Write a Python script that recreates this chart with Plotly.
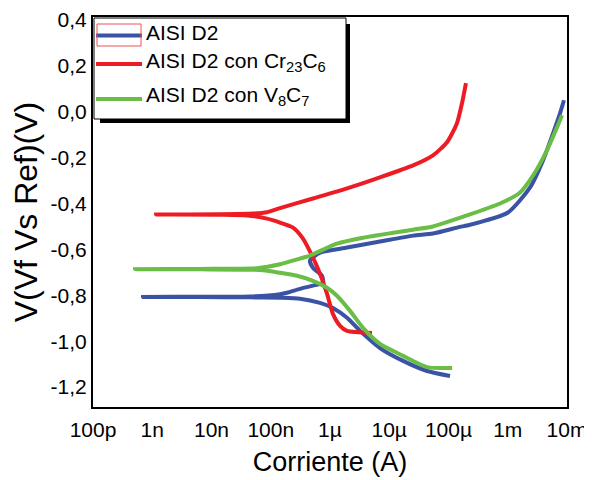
import plotly.graph_objects as go

# ---- data (current in A, potential in V) ----
blue_i = [1.06e-4, 4.34e-5, 1.71e-5, 6.98e-6, 3.21e-6, 1.94e-6, 1.12e-6, 6.78e-7, 3.12e-7, 1.43e-7,
          4.47e-8, 6.40e-9, 6.98e-10, 6.40e-9, 4.47e-8, 1.43e-7, 1.88e-7, 3.12e-7, 5.16e-7, 7.62e-7,
          7.33e-7, 5.16e-7, 4.59e-7, 6.78e-7, 1.94e-6, 6.98e-6, 2.52e-5, 5.47e-5, 1.56e-4, 2.05e-4,
          1.01e-3, 2.38e-3, 3.94e-3, 5.81e-3, 7.62e-3, 8.89e-3]
blue_v = [-1.152, -1.130, -1.086, -1.030, -0.955, -0.898, -0.855, -0.833, -0.815, -0.811,
          -0.809, -0.808, -0.807, -0.806, -0.805, -0.795, -0.789, -0.772, -0.758, -0.745,
          -0.715, -0.680, -0.649, -0.614, -0.592, -0.566, -0.540, -0.531, -0.502, -0.496,
          -0.439, -0.330, -0.212, -0.094, -0.007, 0.050]

red_i = [5.12e-6, 1.94e-6, 1.48e-6, 1.12e-6, 8.89e-7, 6.78e-7, 5.16e-7, 3.50e-7, 2.38e-7, 1.43e-7,
         8.65e-8, 3.97e-8, 1.39e-8, 1.16e-9, 1.39e-8, 5.01e-8, 8.65e-8, 1.43e-7, 5.16e-7, 1.94e-6,
         6.98e-6, 2.52e-5, 5.47e-5, 9.44e-5, 1.39e-4, 1.69e-4, 1.97e-4]
red_v = [-0.964, -0.955, -0.933, -0.881, -0.793, -0.706, -0.636, -0.553, -0.505, -0.483,
         -0.466, -0.452, -0.449, -0.448, -0.447, -0.444, -0.438, -0.420, -0.378, -0.334,
         -0.286, -0.234, -0.190, -0.133, -0.050, 0.037, 0.125]

green_i = [1.15e-4, 4.34e-5, 1.71e-5, 6.98e-6, 3.61e-6, 2.18e-6, 1.31e-6, 8.89e-7, 5.16e-7, 2.77e-7,
           1.43e-7, 6.59e-8, 6.40e-9, 5.12e-10, 6.40e-9, 5.86e-8, 1.43e-7, 3.12e-7, 4.59e-7, 1.31e-6,
           3.61e-6, 2.52e-5, 5.47e-5, 2.05e-4, 7.40e-4, 1.61e-3, 2.67e-3, 4.59e-3, 6.78e-3, 8.24e-3]
green_v = [-1.117, -1.113, -1.064, -1.012, -0.942, -0.868, -0.802, -0.767, -0.737, -0.715,
           -0.702, -0.690, -0.687, -0.686, -0.685, -0.682, -0.665, -0.640, -0.627, -0.575,
           -0.549, -0.514, -0.500, -0.452, -0.400, -0.352, -0.278, -0.168, -0.068, -0.015]

names = ["AISI D2", "AISI D2 con Cr<sub>23</sub>C<sub>6</sub>", "AISI D2 con V<sub>8</sub>C<sub>7</sub>"]
colors = ["#3A53A4", "#ED1C24", "#6ABD45"]

x_tickvals = [1e-10, 1e-9, 1e-8, 1e-7, 1e-6, 1e-5, 1e-4, 1e-3, 1e-2]
x_ticktext = ["100p", "1n", "10n", "100n", "1µ", "10µ", "100µ", "1m", "10m"]
y_tickvals = [-1.2, -1.0, -0.8, -0.6, -0.4, -0.2, 0.0, 0.2, 0.4]
y_ticktext = ["-1,2", "-1,0", "-0,8", "-0,6", "-0,4", "-0,2", "0,0", "0,2", "0,4"]

# page has an 8px body margin: build the figure 8px smaller so it lands where the reference is
OFF = 8
W, H = 592 - OFF, 480 - OFF
PL, PR, PT, PB = 93, 567, 17, 407          # plot edges in window pixels
L, T = PL - OFF, PT - OFF
R, B = W - (PR - OFF), H - (PB - OFF)
PW, PH = PR - PL, PB - PT

def px(x):
    return (x - PL) / PW

def py(y):
    return (PB - y) / PH

fig = go.Figure()
for xs, ys, nm, c in [(blue_i, blue_v, names[0], colors[0]),
                      (red_i, red_v, names[1], colors[1]),
                      (green_i, green_v, names[2], colors[2])]:
    fig.add_trace(go.Scatter(x=xs, y=ys, mode="lines", name=nm, showlegend=False,
                             line=dict(color=c, width=4, shape="spline", smoothing=0.6)))

shapes = [
    # legend shadow
    dict(type="rect", xref="paper", yref="paper", x0=px(100), x1=px(350), y0=py(123), y1=py(24),
         fillcolor="black", line=dict(width=0), layer="above"),
    # legend box
    dict(type="rect", xref="paper", yref="paper", x0=px(94), x1=px(346), y0=py(119), y1=py(18),
         fillcolor="white", line=dict(color="black", width=1), layer="above"),
]
legend_rows_y = [35.5, 64, 99]
for yy, c in zip(legend_rows_y, colors):
    shapes.append(dict(type="line", xref="paper", yref="paper", x0=px(96), x1=px(142),
                       y0=py(yy), y1=py(yy), line=dict(color=c, width=4), layer="above"))
# small red frame around first legend sample
shapes.append(dict(type="rect", xref="paper", yref="paper", x0=px(97), x1=px(141), y0=py(46), y1=py(24),
                   fillcolor="rgba(0,0,0,0)", line=dict(color="#F05050", width=1), layer="above"))

text_tops = [20.5, 47.5, 82.5]
annotations = [dict(xref="paper", yref="paper", x=px(145), y=py(tt), xanchor="left", yanchor="top",
                    text=nm, showarrow=False, font=dict(size=21, color="black"), borderpad=0)
               for tt, nm in zip(text_tops, names)]

fig.update_layout(
    width=W, height=H,
    margin=dict(l=L, r=R, t=T, b=B, autoexpand=False),
    paper_bgcolor="white", plot_bgcolor="white",
    font=dict(family="Liberation Sans, Arial, sans-serif", color="black"),
    shapes=shapes, annotations=annotations,
    showlegend=False,
    xaxis=dict(type="log", range=[-10, -2], tickvals=x_tickvals, ticktext=x_ticktext,
               showgrid=False, zeroline=False, showline=True, mirror=True,
               linecolor="black", linewidth=2, ticks="", ticklabelstandoff=3,
               tickfont=dict(size=21),
               title=dict(text="Corriente (A)", font=dict(size=27), standoff=12)),
    yaxis=dict(range=[-1.287, 0.413], tickvals=y_tickvals, ticktext=y_ticktext,
               showgrid=False, zeroline=False, showline=True, mirror=True,
               linecolor="black", linewidth=2, ticks="",
               tickfont=dict(size=21),
               title=dict(text="V(Vf Vs Ref)(V)", font=dict(size=32), standoff=3)),
)

fig.write_html("out.html")
